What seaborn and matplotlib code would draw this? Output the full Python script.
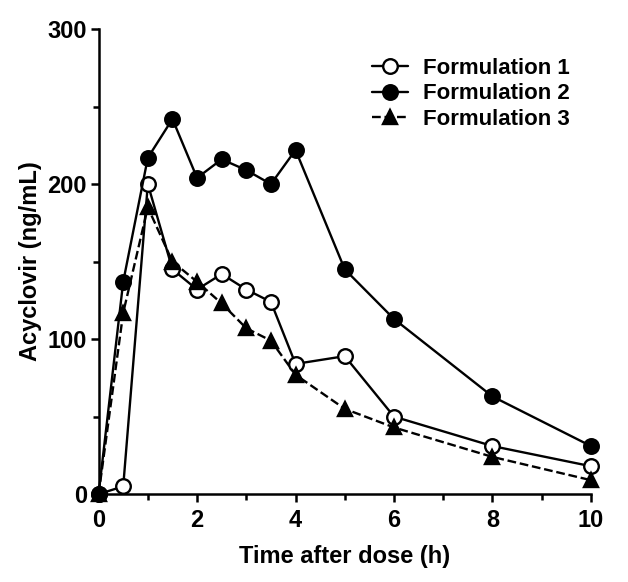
import matplotlib
matplotlib.use("Agg")
import matplotlib.pyplot as plt
from matplotlib.ticker import MultipleLocator
import seaborn as sns
import pandas as pd

time_h = [0, 0.5, 1, 1.5, 2, 2.5, 3, 3.5, 4, 5, 6, 8, 10]
form1 = [0, 5, 200, 145, 132, 142, 132, 124, 84, 89, 50, 31, 18]
form2 = [0, 137, 217, 242, 204, 216, 209, 200, 222, 145, 113, 63, 31]
form3 = [0, 117, 185, 150, 137, 123, 107, 99, 77, 55, 43, 24, 9]
labels = ["Formulation 1", "Formulation 2", "Formulation 3"]

sns.set_style("ticks")
plt.rcParams['font.family'] = ['Liberation Sans', 'DejaVu Sans']
plt.rcParams['font.weight'] = 'bold'
plt.rcParams['text.color'] = 'black'
plt.rcParams['axes.labelcolor'] = 'black'
plt.rcParams['xtick.color'] = 'black'
plt.rcParams['ytick.color'] = 'black'
plt.rcParams['xtick.labelcolor'] = 'black'
plt.rcParams['ytick.labelcolor'] = 'black'

fig = plt.figure(figsize=(6.28, 5.82), dpi=100)
ax = fig.add_axes([0.157, 0.151, 0.784, 0.799])

styles = [
    dict(marker='o', linestyle='-', markerfacecolor='white'),
    dict(marker='o', linestyle='-', markerfacecolor='black'),
    dict(marker='^', linestyle='--', markerfacecolor='black'),
]
for vals, lab, st in zip([form1, form2, form3], labels, styles):
    df = pd.DataFrame({"t": time_h, "c": vals})
    sns.lineplot(data=df, x="t", y="c", ax=ax, color='black', linewidth=1.7,
                 marker=st['marker'], linestyle=st['linestyle'],
                 markerfacecolor=st['markerfacecolor'], markeredgecolor='black',
                 markeredgewidth=1.7, markersize=10.5, label=lab, clip_on=False, zorder=3)

ax.set_xlim(0, 10)
ax.set_ylim(0, 300)
ax.xaxis.set_major_locator(MultipleLocator(2))
ax.xaxis.set_minor_locator(MultipleLocator(1))
ax.yaxis.set_major_locator(MultipleLocator(100))
ax.yaxis.set_minor_locator(MultipleLocator(50))
ax.tick_params(which='major', length=6, width=1.8, labelsize=17, direction='out',
               color='black', labelcolor='black')
ax.tick_params(axis='y', which='major', pad=2.5)
ax.tick_params(axis='x', which='major', pad=5)
ax.tick_params(which='minor', length=4.5, width=1.8, direction='out', color='black')
for lbl in ax.get_xticklabels() + ax.get_yticklabels():
    lbl.set_fontweight('bold')
for s in ['left', 'bottom']:
    ax.spines[s].set_linewidth(1.8)
    ax.spines[s].set_color('black')
sns.despine(ax=ax)

ax.set_xlabel("Time after dose (h)", fontsize=17, fontweight='bold', labelpad=9,
              color='black')
ax.set_ylabel("Acyclovir (ng/mL)", fontsize=17, fontweight='bold', labelpad=4,
              color='black')

leg = ax.legend(loc='upper left', bbox_to_anchor=(372 / 628, 1 - 58 / 582),
                bbox_transform=fig.transFigure, frameon=False, borderpad=0,
                borderaxespad=0, prop={'size': 16, 'weight': 'bold'},
                handlelength=1.6, handletextpad=0.7, labelspacing=0.2)
for t in leg.get_texts():
    t.set_color('black')

fig.savefig("out.png", dpi=100)
